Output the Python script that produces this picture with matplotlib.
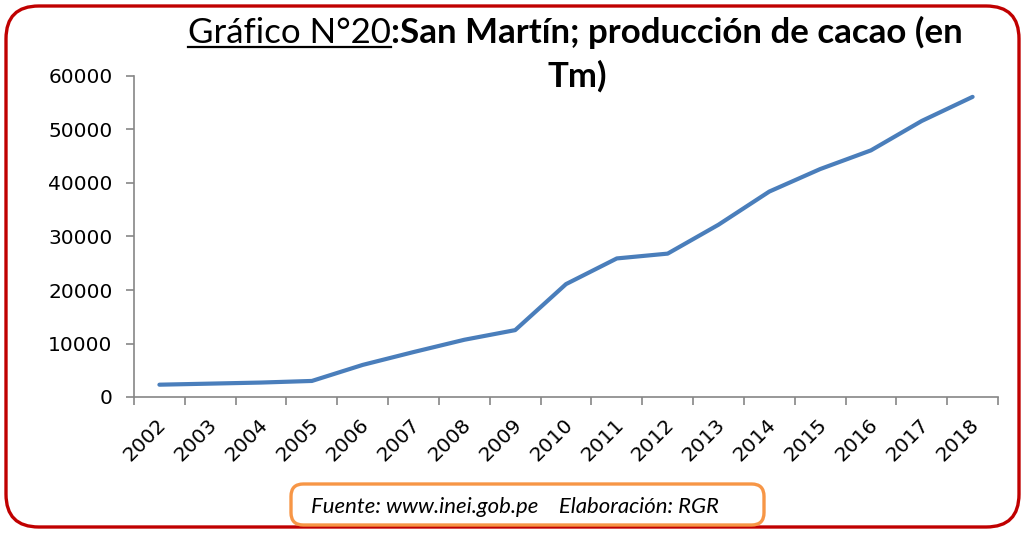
import matplotlib
matplotlib.use("Agg")
import matplotlib.pyplot as plt
from matplotlib.patches import FancyBboxPatch
from matplotlib.lines import Line2D
import matplotlib.transforms as mtransforms

years = ["2002", "2003", "2004", "2005", "2006", "2007", "2008", "2009", "2010",
         "2011", "2012", "2013", "2014", "2015", "2016", "2017", "2018"]
production = [2300, 2500, 2700, 3000, 6000, 8400, 10700, 12500, 21100,
              25900, 26800, 32200, 38400, 42600, 46100, 51600, 56100]
y_ticks = [0, 10000, 20000, 30000, 40000, 50000, 60000]

title_plain = "Gráfico N°20"
title_bold = ":San Martín; producción de cacao (en"
title_line2 = "Tm)"
footer = "Fuente: www.inei.gob.pe    Elaboración: RGR"

W, H = 1025, 533
fig = plt.figure(figsize=(W / 100, H / 100), dpi=100)

def fx(px):
    return px / W

def fy(py):
    return 1 - py / H

# outer rounded frame
frame = FancyBboxPatch((fx(6), fy(527)), fx(1013), (521) / H,
                       boxstyle="round,pad=0,rounding_size=0.032",
                       transform=fig.transFigure, fill=False,
                       edgecolor="#C00000", linewidth=2.4, mutation_aspect=W / H)
fig.patches.append(frame)

ax = fig.add_axes([fx(134), fy(397), fx(998) - fx(134), (397 - 76) / H])
x = list(range(len(years)))
ax.plot(x, production, color="#4A7EBB", linewidth=3.0, solid_capstyle="round")
ax.set_xlim(-0.5, len(years) - 0.5)
ax.set_ylim(0, 60000)
ax.set_yticks(y_ticks)
ax.set_yticklabels([str(v) for v in y_ticks])
ax.set_xticks(x)
ax.set_xticklabels(years, rotation=45, ha="right", va="top", rotation_mode="anchor")
ax.set_xticks([i - 0.5 for i in range(len(years) + 1)], minor=True)
ax.tick_params(axis="x", which="major", length=0, pad=13, labelsize=14.5, labelcolor="black")
ax.tick_params(axis="x", which="minor", length=6, width=1.2, color="#868686", direction="out")
ax.tick_params(axis="y", length=6, width=1.2, color="#868686", pad=9.5, labelsize=14.5, labelcolor="black")
shift = mtransforms.ScaledTranslation(-3 / 100, 0, fig.dpi_scale_trans)
for lbl in ax.get_xticklabels():
    lbl.set_transform(lbl.get_transform() + shift)
for s in ["top", "right"]:
    ax.spines[s].set_visible(False)
for s in ["left", "bottom"]:
    ax.spines[s].set_color("#868686")
    ax.spines[s].set_linewidth(1.2)
ax.patch.set_alpha(0)

fig.canvas.draw()
r = fig.canvas.get_renderer()

# title: plain underlined part followed by bold part, centered as a whole
tfont = "Lato"
t1 = fig.text(0, 0, title_plain, fontsize=20, family=tfont)
t2 = fig.text(0, 0, title_bold, fontsize=20, family=tfont, fontweight="bold")
wsum = t1.get_window_extent(r).width + t2.get_window_extent(r).width
tsize = 20 * 774 / wsum
t1.set_fontsize(tsize)
t2.set_fontsize(tsize)
w1 = t1.get_window_extent(r).width
w2 = t2.get_window_extent(r).width
cx = 575
start = cx - (w1 + w2) / 2
base = 43
t1.set_position((fx(start), fy(base)))
t1.set_va("baseline")
t2.set_position((fx(start + w1), fy(base)))
t2.set_va("baseline")
fig.lines.append(Line2D([fx(start), fx(start + w1)], [fy(base + 4), fy(base + 4)],
                        transform=fig.transFigure, color="black", linewidth=1.6))
fig.text(fx(577), fy(87), title_line2, fontsize=tsize, family=tfont, fontweight="bold",
         ha="center", va="baseline")

# source box
src = FancyBboxPatch((fx(291), fy(525)), fx(473), 41 / H,
                     boxstyle="round,pad=0,rounding_size=0.012",
                     transform=fig.transFigure, fill=False,
                     edgecolor="#F79646", linewidth=2.4, mutation_aspect=W / H)
fig.patches.append(src)
ft = fig.text(fx(515), fy(507), footer, fontsize=12, style="italic", family="Lato",
              ha="center", va="center")
fw = ft.get_window_extent(r).width
ft.set_fontsize(12 * 406 / fw)

fig.savefig("out.png", dpi=100)
